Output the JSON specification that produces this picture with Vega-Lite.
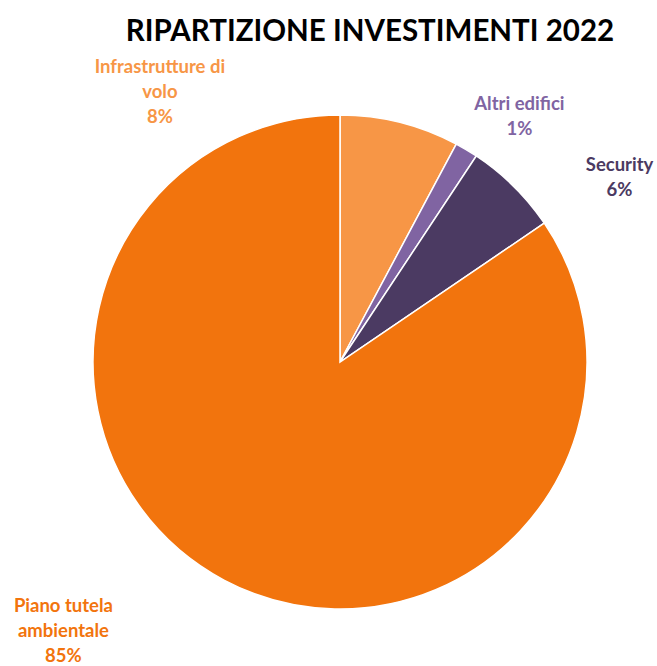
{
  "$schema": "https://vega.github.io/schema/vega-lite/v6.json",
  "autosize": "none",
  "width": 494,
  "height": 494,
  "padding": {"left": 93, "top": 115, "right": 70, "bottom": 57},
  "background": "white",
  "title": {
    "text": "RIPARTIZIONE INVESTIMENTI 2022",
    "font": "Lato",
    "fontSize": 29.5,
    "fontWeight": "bold",
    "color": "#000000",
    "anchor": "middle",
    "dx": 30,
    "offset": 11
  },
  "data": {
    "values": [
      {"categoria": "Infrastrutture di volo", "etichetta": "Infrastrutture di\nvolo\n8%", "valore": 7.8, "ordine": 1},
      {"categoria": "Altri edifici", "etichetta": "Altri edifici\n1%", "valore": 1.5, "ordine": 2},
      {"categoria": "Security", "etichetta": "Security\n6%", "valore": 6.2, "ordine": 3},
      {"categoria": "Piano tutela ambientale", "etichetta": "Piano tutela\nambientale\n85%", "valore": 84.5, "ordine": 4}
    ]
  },
  "encoding": {
    "theta": {"field": "valore", "type": "quantitative", "stack": true},
    "order": {"field": "ordine", "type": "quantitative"}
  },
  "layer": [
    {
      "mark": {"type": "arc", "stroke": "white", "strokeWidth": 1.5, "radius": 247},
      "encoding": {
        "color": {
          "field": "categoria",
          "type": "nominal",
          "scale": {
            "domain": ["Infrastrutture di volo", "Altri edifici", "Security", "Piano tutela ambientale"],
            "range": ["#F79646", "#8064A2", "#4B3A62", "#F2740D"]
          },
          "legend": null
        }
      }
    },
    {
      "mark": {"type": "text", "radius": 247, "dx": -240, "dy": -55, "font": "Lato", "fontSize": 18.5, "fontWeight": "bold", "lineBreak": "\n", "lineHeight": 25, "align": "center", "baseline": "middle"},
      "encoding": {
        "text": {"field": "etichetta", "type": "nominal"},
        "color": {"value": "#F79646"},
        "opacity": {"condition": {"test": "datum.categoria === 'Infrastrutture di volo'", "value": 1}, "value": 0}
      }
    },
    {
      "mark": {"type": "text", "radius": 247, "dx": 53, "dy": -46, "font": "Lato", "fontSize": 18.5, "fontWeight": "bold", "lineBreak": "\n", "lineHeight": 25, "align": "center", "baseline": "middle"},
      "encoding": {
        "text": {"field": "etichetta", "type": "nominal"},
        "color": {"value": "#8064A2"},
        "opacity": {"condition": {"test": "datum.categoria === 'Altri edifici'", "value": 1}, "value": 0}
      }
    },
    {
      "mark": {"type": "text", "radius": 247, "dx": 106, "dy": -21, "font": "Lato", "fontSize": 18.5, "fontWeight": "bold", "lineBreak": "\n", "lineHeight": 25, "align": "center", "baseline": "middle"},
      "encoding": {
        "text": {"field": "etichetta", "type": "nominal"},
        "color": {"value": "#4B3A62"},
        "opacity": {"condition": {"test": "datum.categoria === 'Security'", "value": 1}, "value": 0}
      }
    },
    {
      "mark": {"type": "text", "radius": 247, "dx": -161, "dy": 26, "font": "Lato", "fontSize": 18.5, "fontWeight": "bold", "lineBreak": "\n", "lineHeight": 25, "align": "center", "baseline": "middle"},
      "encoding": {
        "text": {"field": "etichetta", "type": "nominal"},
        "color": {"value": "#F2740D"},
        "opacity": {"condition": {"test": "datum.categoria === 'Piano tutela ambientale'", "value": 1}, "value": 0}
      }
    }
  ]
}
